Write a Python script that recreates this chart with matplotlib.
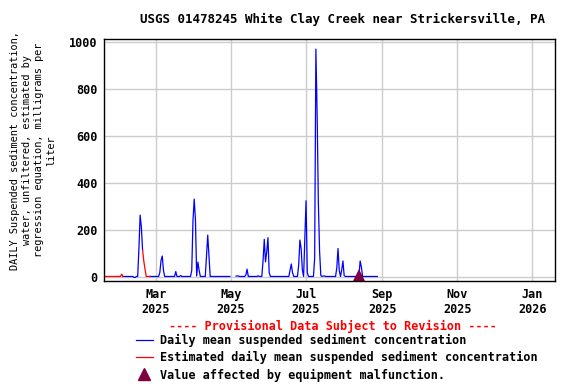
import matplotlib
matplotlib.use("Agg")
import matplotlib.pyplot as plt
from matplotlib.lines import Line2D
import numpy as np
import pandas as pd

# daily mean suspended sediment, mg/L (vertices)
red1_dates = ["2025-01-18", "2025-01-31", "2025-02-01", "2025-02-02"]
red1_values = [4, 4, 14, 4]

red2_dates = ["2025-02-18", "2025-02-19", "2025-02-20", "2025-02-21", "2025-02-24"]
red2_values = [116, 69, 34, 4, 4]

blue_dates = [
    "2025-02-02", "2025-02-10", "2025-02-11", "2025-02-12", "2025-02-13", "2025-02-14",
    "2025-02-15", "2025-02-16", "2025-02-17", "2025-02-18",
    "2025-02-19",  # gap (estimated values shown in red)
    "2025-02-24", "2025-03-03", "2025-03-04", "2025-03-05", "2025-03-06", "2025-03-07",
    "2025-03-08", "2025-03-16", "2025-03-17", "2025-03-18", "2025-03-20", "2025-03-21",
    "2025-03-22", "2025-03-29", "2025-03-30", "2025-03-31", "2025-04-01", "2025-04-02",
    "2025-04-03", "2025-04-04", "2025-04-05", "2025-04-06", "2025-04-10", "2025-04-11",
    "2025-04-12", "2025-04-13", "2025-04-14", "2025-04-30",
    "2025-05-02",  # missing days
    "2025-05-05", "2025-05-07", "2025-05-08", "2025-05-12", "2025-05-13", "2025-05-14",
    "2025-05-15", "2025-05-22", "2025-05-23", "2025-05-24", "2025-05-26", "2025-05-27",
    "2025-05-28", "2025-05-29", "2025-05-30", "2025-05-31", "2025-06-01", "2025-06-02",
    "2025-06-17", "2025-06-18", "2025-06-19", "2025-06-20", "2025-06-21", "2025-06-24",
    "2025-06-25", "2025-06-26", "2025-06-27", "2025-06-28", "2025-06-29", "2025-06-30",
    "2025-07-01", "2025-07-02", "2025-07-03", "2025-07-07", "2025-07-08", "2025-07-09",
    "2025-07-10", "2025-07-11", "2025-07-12", "2025-07-13", "2025-07-14", "2025-07-15",
    "2025-07-16", "2025-07-17", "2025-07-25", "2025-07-26", "2025-07-27", "2025-07-28",
    "2025-07-29", "2025-07-30", "2025-07-31", "2025-08-01", "2025-08-02", "2025-08-13",
    "2025-08-14", "2025-08-15", "2025-08-16", "2025-08-28",
]
blue_values = [
    4, 4, 0, 0, 4, 4,
    120, 265, 214, 116,
    np.nan,
    4, 4, 20, 72, 91, 29,
    4, 4, 25, 4, 4, 8,
    4, 4, 30, 241, 333, 247,
    6, 65, 30, 4, 4, 91,
    180, 92, 4, 4,
    np.nan,
    6, 6, 4, 4, 10, 35,
    4, 4, 7, 4, 4, 70,
    162, 66, 108, 169, 20, 4,
    4, 31, 57, 20, 4, 4,
    52, 159, 123, 31, 4, 166,
    326, 20, 4, 4, 81, 971,
    698, 319, 113, 8, 4, 6,
    6, 4, 4, 40, 123, 30,
    4, 31, 70, 8, 4, 4,
    70, 45, 4, 4,
]

malf_dates = ["2025-08-13"]
malf_values = [3]

tick_dates = ["2025-03-01", "2025-05-01", "2025-07-01", "2025-09-01", "2025-11-01", "2026-01-01"]
tick_labels = ["Mar\n2025", "May\n2025", "Jul\n2025", "Sep\n2025", "Nov\n2025", "Jan\n2026"]

plt.rcParams["font.family"] = "DejaVu Sans Mono"
plt.rcParams["font.weight"] = "bold"

fig = plt.figure(figsize=(5.76, 3.84), dpi=100)
ax = fig.add_axes([0.1814, 0.269, 0.7816, 0.6294])

ax.plot(pd.to_datetime(blue_dates), blue_values, color="#0000FF", lw=0.9)
ax.plot(pd.to_datetime(red1_dates), red1_values, color="#FF0000", lw=0.9)
ax.plot(pd.to_datetime(red2_dates), red2_values, color="#FF0000", lw=0.9)
ax.plot(pd.to_datetime(malf_dates), malf_values, "^", color="#800040",
        markersize=11, markeredgewidth=0)

ax.set_xlim(pd.Timestamp("2025-01-18"), pd.Timestamp("2026-01-19 07:00"))
ax.set_ylim(-14, 1014)
ax.set_yticks([0, 200, 400, 600, 800, 1000])
ax.set_xticks(pd.to_datetime(tick_dates))
ax.set_xticklabels(tick_labels)
ax.tick_params(length=0, labelsize=8.5, pad=5)
ax.grid(True, color="#CCCCCC", lw=1)
ax.set_axisbelow(True)
for s in ax.spines.values():
    s.set_linewidth(1)

ax.set_ylabel("DAILY Suspended sediment concentration,\nwater, unfiltered, estimated by\n"
              "regression equation, milligrams per\nliter",
              fontsize=7.4, multialignment="center", linespacing=1.25)
ax.yaxis.set_label_coords(-0.108, 0.54)

fig.text(342 / 576, 1 - 19 / 384, "USGS 01478245 White Clay Creek near Strickersville, PA",
         ha="center", va="center", fontsize=9)

fig.text(333 / 576, 1 - 326 / 384, "---- Provisional Data Subject to Revision ----",
         ha="center", va="center", fontsize=8.5, color="#FF0000")

handles = [
    Line2D([], [], color="#0000FF", lw=0.9),
    Line2D([], [], color="#FF0000", lw=0.9),
    Line2D([], [], marker="^", color="#800040", ls="none", markersize=8),
]
labels = [
    "Daily mean suspended sediment concentration",
    "Estimated daily mean suspended sediment concentration",
    "Value affected by equipment malfunction.",
]
fig.legend(handles, labels, loc="upper left", bbox_to_anchor=(136 / 576, 1 - 334 / 384),
           frameon=False, fontsize=8.5, handlelength=1.4, handletextpad=0.6,
           labelspacing=0.35, borderpad=0, borderaxespad=0)

fig.savefig("out.png", dpi=100)
